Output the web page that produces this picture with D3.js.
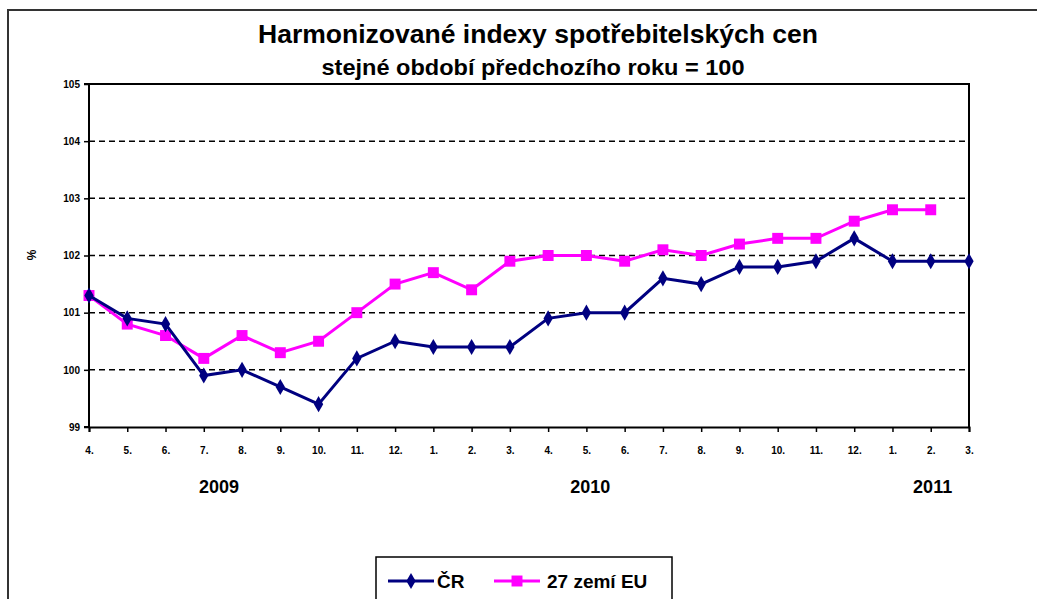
<!DOCTYPE html>
<html>
<head>
<meta charset="utf-8">
<script src="https://cdn.jsdelivr.net/npm/d3@7"></script>
<style>
body { margin: 0; background: #fff; }
text { font-family: "Liberation Sans", Arial, sans-serif; }
</style>
</head>
<body>
<div id="chart"></div>
<script>
const width = 1037
const height = 599
const margin = {top: 84, bottom: 172, left: 89, right: 68}

// data
const months = ["4.", "5.", "6.", "7.", "8.", "9.", "10.", "11.", "12.", "1.", "2.", "3.",
    "4.", "5.", "6.", "7.", "8.", "9.", "10.", "11.", "12.", "1.", "2.", "3."]
const years = [{label: "2009", pos: 3.4}, {label: "2010", pos: 13.1}, {label: "2011", pos: 22.05}]
const cr = [101.3, 100.9, 100.8, 99.9, 100.0, 99.7, 99.4, 100.2, 100.5, 100.4, 100.4, 100.4,
    100.9, 101.0, 101.0, 101.6, 101.5, 101.8, 101.8, 101.9, 102.3, 101.9, 101.9, 101.9]
const eu = [101.3, 100.8, 100.6, 100.2, 100.6, 100.3, 100.5, 101.0, 101.5, 101.7, 101.4, 101.9,
    102.0, 102.0, 101.9, 102.1, 102.0, 102.2, 102.3, 102.3, 102.6, 102.8, 102.8, null]
const yTicks = [99, 100, 101, 102, 103, 104, 105]

const innerW = width - margin.left - margin.right
const innerH = height - margin.top - margin.bottom

const svg = d3.select("#chart").append("svg").attr("width", width).attr("height", height)

// outer frame
svg.append("rect").attr("x", 8).attr("y", 10).attr("width", 1040).attr("height", 600)
    .attr("fill", "none").attr("stroke", "#333").attr("stroke-width", 2)

// title
svg.append("text").attr("x", 538).attr("y", 43).attr("text-anchor", "middle")
    .attr("font-size", 25).attr("font-weight", "bold").attr("textLength", 560)
    .attr("lengthAdjust", "spacingAndGlyphs")
    .text("Harmonizované indexy spotřebitelských cen")
svg.append("text").attr("x", 533).attr("y", 75).attr("text-anchor", "middle")
    .attr("font-size", 22).attr("font-weight", "bold").attr("textLength", 423)
    .attr("lengthAdjust", "spacingAndGlyphs")
    .text("stejné období předchozího roku = 100")

const g = svg.append("g").attr("transform", `translate(${margin.left}, ${margin.top})`)

let x = d3.scaleLinear().domain([0, months.length - 1]).range([0, innerW])
let y = d3.scaleLinear().domain([99, 105]).range([innerH, 0])

// grid
g.selectAll("line.grid").data(yTicks.filter(d => d > 99 && d < 105)).enter()
    .append("line").attr("class", "grid")
    .attr("x1", 0).attr("x2", innerW)
    .attr("y1", d => y(d)).attr("y2", d => y(d))
    .attr("stroke", "#000").attr("stroke-width", 1.5).attr("stroke-dasharray", "6,4")

// plot border top/right
g.append("path").attr("d", `M0,${y(105)}H${innerW}V${innerH}`)
    .attr("fill", "none").attr("stroke", "#000").attr("stroke-width", 2)

// axes
let yAxis = d3.axisLeft(y).tickValues(yTicks).tickSize(5).tickFormat(d3.format("d"))
let xAxis = d3.axisBottom(x).tickValues(d3.range(months.length)).tickSize(5).tickFormat(i => months[i])

const yAxisGroup = g.append("g").call(yAxis)
const xAxisGroup = g.append("g").attr("transform", `translate(0, ${innerH})`).call(xAxis)
;[yAxisGroup, xAxisGroup].forEach(ag => {
    ag.select(".domain").attr("stroke", "#000").attr("stroke-width", 2)
    ag.selectAll(".tick line").attr("stroke", "#000").attr("stroke-width", 1.5)
    ag.selectAll("text").attr("font-size", 10).attr("fill", "#000")
        .attr("font-family", "DejaVu Sans").attr("font-weight", "bold")
})
yAxisGroup.select(".domain").attr("d", `M-5,0H0V${innerH}H-5`)
xAxisGroup.selectAll("text").attr("dy", 0).attr("y", 27)
yAxisGroup.selectAll("text").attr("x", -9)

// year labels
g.selectAll("text.year").data(years).enter().append("text").attr("class", "year")
    .attr("x", d => x(d.pos)).attr("y", innerH + 66).attr("text-anchor", "middle")
    .attr("font-size", 18).attr("font-weight", "bold").text(d => d.label)

// % label
svg.append("text").attr("transform", "translate(36, 255) rotate(-90)")
    .attr("text-anchor", "middle").attr("font-size", 12).attr("font-weight", "bold").text("%")

// lines
const series = [
    {name: "ČR", values: cr, color: "#000080", marker: d3.symbolDiamond, size: 75},
    {name: "27 zemí EU", values: eu, color: "#FF00FF", marker: d3.symbolSquare, size: 120}
]
const line = d3.line().defined(d => d != null).x((d, i) => x(i)).y(d => y(d))

series.slice().reverse().forEach(s => {
    g.append("path").datum(s.values).attr("d", line)
        .attr("fill", "none").attr("stroke", s.color).attr("stroke-width", 3)
    g.selectAll(null).data(s.values.map((v, i) => ({v, i})).filter(d => d.v != null)).enter()
        .append("path")
        .attr("d", d3.symbol().type(s.marker).size(s.size))
        .attr("transform", d => `translate(${x(d.i)}, ${y(d.v)})`)
        .attr("fill", s.color)
})

// legend
const legend = svg.append("g")
legend.append("rect").attr("x", 376).attr("y", 557).attr("width", 296).attr("height", 60)
    .attr("fill", "#fff").attr("stroke", "#000").attr("stroke-width", 1.5)
const legendX = [388, 494]
const legendTextX = [437, 547]
series.forEach((s, k) => {
    legend.append("line").attr("x1", legendX[k]).attr("x2", legendX[k] + 46)
        .attr("y1", 581).attr("y2", 581).attr("stroke", s.color).attr("stroke-width", 3)
    legend.append("path").attr("d", d3.symbol().type(s.marker).size(s.size))
        .attr("transform", `translate(${legendX[k] + 23}, 581)`).attr("fill", s.color)
    legend.append("text").attr("x", legendTextX[k]).attr("y", 588)
        .attr("font-size", 19).attr("font-weight", "bold").text(s.name)
})
</script>
</body>
</html>
